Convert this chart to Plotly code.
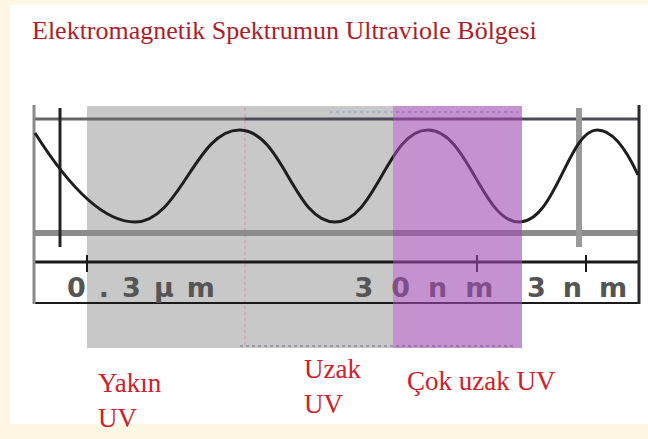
import plotly.graph_objects as go

W, H = 648, 439

# ---- text content ----
title_text = "Elektromagnetik Spektrumun Ultraviole Bölgesi"
region_labels = ["Yakın<br>UV", "Uzak<br>UV", "Çok uzak UV"]
region_label_x = [96, 302, 405]
region_label_y = [400, 386, 381]

tick_labels = ["0.3µm", "30nm", "3nm"]
tick_label_x = [141, 424, 577]
tick_label_spacing = [13, 18, 17]
tick_x = [87, 477, 586]

# ---- spectral bands (diagram pixel units) ----
uv_band_x = [87, 393]        # near + far UV (gray)
xuv_band_x = [393, 522]      # extreme UV (purple)
band_y = [106, 348]

# ---- wave (start, troughs/peaks, end) ----
wave_x = [35, 135, 240, 335, 428, 520, 597, 638]
wave_y = [133, 222, 130, 222, 130, 222, 130, 175]

fig = go.Figure()

# wave
fig.add_trace(go.Scatter(
    x=wave_x, y=wave_y, mode="lines",
    line=dict(color="#1e1e1e", width=3, shape="spline", smoothing=1.3),
    hoverinfo="skip", showlegend=False))


def spaced(t, s):
    # letter-spaced text without trailing space after the last glyph
    return f'<span style="letter-spacing:{s}px">{t[:-1]}</span>{t[-1]}'


# axis tick labels (wide, bold, gray)
fig.add_trace(go.Scatter(
    x=tick_label_x, y=[290] * len(tick_labels), mode="text",
    text=[spaced(t, s) for t, s in zip(tick_labels, tick_label_spacing)],
    textposition="middle center",
    textfont=dict(family="DejaVu Sans", size=27, color="#555555", weight="bold"),
    hoverinfo="skip", showlegend=False))

shapes = []
# cream frame (white page inside)
shapes.append(dict(type="rect", xref="x", yref="y", x0=10, x1=648, y0=5, y1=424,
                   fillcolor="#ffffff", line=dict(width=0), layer="below"))
# gray band
shapes.append(dict(type="rect", xref="x", yref="y", x0=uv_band_x[0], x1=uv_band_x[1],
                   y0=band_y[0], y1=band_y[1], fillcolor="#c8c8c8",
                   line=dict(width=0), layer="below"))


def hline(y, x0, x1, color, width, dash="solid"):
    shapes.append(dict(type="line", xref="x", yref="y", x0=x0, x1=x1, y0=y, y1=y,
                       line=dict(color=color, width=width, dash=dash), layer="below"))


def vline(x, y0, y1, color, width, dash="solid"):
    shapes.append(dict(type="line", xref="x", yref="y", x0=x, x1=x, y0=y0, y1=y1,
                       line=dict(color=color, width=width, dash=dash), layer="below"))


# faint dotted guides
vline(245, 108, 346, "#d8a6c8", 2, "dot")
hline(346, 240, 515, "#8a8a9a", 1.5, "dot")
hline(112, 330, 518, "#9aa8d8", 1.5, "dot")

# frame lines
hline(119, 35, 245, "#666666", 3)
hline(119, 245, 639, "#4e4a58", 3)
hline(233, 35, 638, "#8c8c8c", 6)
hline(262, 35, 638, "#1a1a1a", 3)
hline(303, 35, 638, "#1a1a1a", 2)
vline(34, 105, 304, "#8a8a8a", 3)
vline(639, 105, 304, "#2a2a2a", 3)
vline(60, 108, 247, "#222222", 3)
vline(579, 108, 247, "#9a9a9a", 6)
for tx in tick_x:
    vline(tx, 255, 272, "#1a1a1a", 2)

# purple band overlays everything below it (tinted)
shapes.append(dict(type="rect", xref="x", yref="y", x0=xuv_band_x[0], x1=xuv_band_x[1],
                   y0=band_y[0], y1=band_y[1], fillcolor="#9e49b1", opacity=0.6,
                   line=dict(width=0), layer="above"))

annotations = [dict(text=title_text, x=30, y=30, xref="x", yref="y",
                    xanchor="left", yanchor="middle", showarrow=False,
                    font=dict(family="Liberation Serif", size=26, color="#ad1c2a"))]
for lab, lx, ly in zip(region_labels, region_label_x, region_label_y):
    annotations.append(dict(text=lab, x=lx, y=ly, xref="x", yref="y",
                            xanchor="left", yanchor="middle", align="left",
                            showarrow=False,
                            font=dict(family="Liberation Serif", size=27, color="#d0202c")))

fig.update_layout(
    width=W, height=H,
    margin=dict(l=0, r=0, t=0, b=0),
    paper_bgcolor="#fdf7e4", plot_bgcolor="rgba(0,0,0,0)",
    xaxis=dict(range=[0, W], visible=False, fixedrange=True),
    yaxis=dict(range=[H, 0], visible=False, fixedrange=True),
    shapes=shapes, annotations=annotations, showlegend=False,
)

fig.write_html("out.html", config={"displayModeBar": False},
               post_script="document.body.style.margin='0';")
